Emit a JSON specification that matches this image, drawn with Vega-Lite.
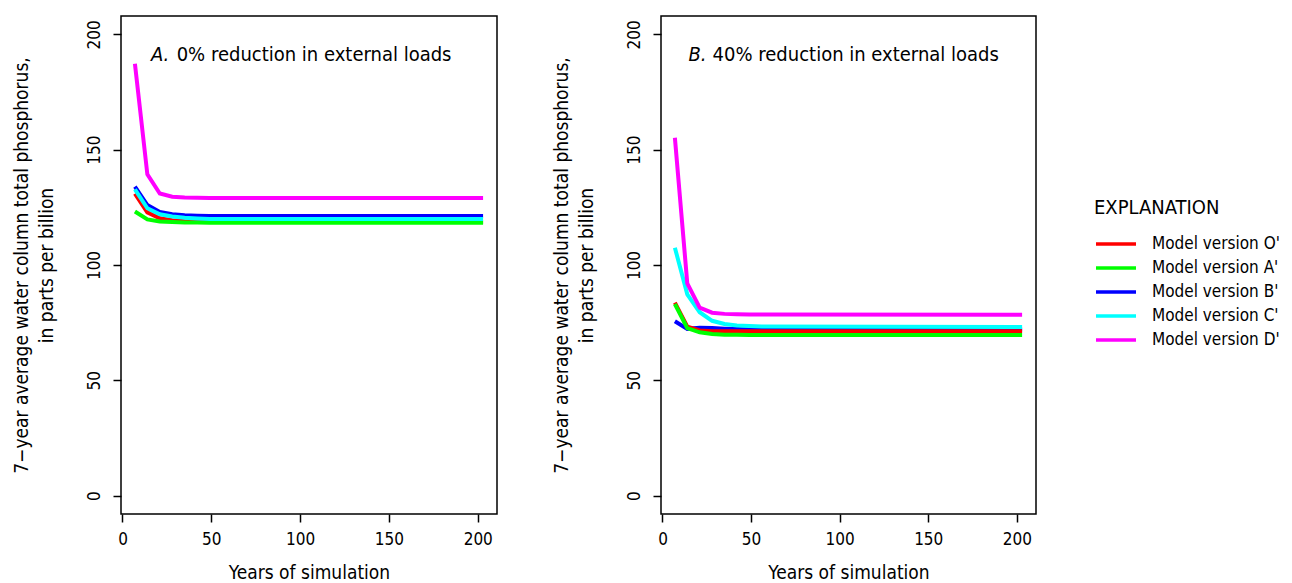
{
  "$schema": "https://vega.github.io/schema/vega-lite/v6.json",
  "background": "white",
  "padding": {"left": 11, "top": 15, "right": 5, "bottom": 5},
  "spacing": 53,
  "config": {
    "font": "DejaVu Sans Condensed, Roboto, sans-serif",
    "view": {"stroke": "black", "strokeWidth": 1.5},
    "axis": {
      "domain": false, "grid": false,
      "tickColor": "black", "tickSize": 8, "tickWidth": 1.5,
      "labelFont": "DejaVu Sans Condensed, Roboto, sans-serif", "labelFontSize": 17, "labelColor": "black",
      "titleFont": "DejaVu Sans Condensed, Roboto, sans-serif", "titleFontSize": 19, "titleFontWeight": "normal", "titleColor": "black"
    },
    "legend": {
      "labelFont": "DejaVu Sans Condensed, Roboto, sans-serif", "titleFont": "DejaVu Sans Condensed, Roboto, sans-serif"
    }
  },
  "datasets": {
    "d": [
      {"p":"A","m":"Model version B'","x":7,"y":134},{"p":"A","m":"Model version B'","x":14,"y":126},{"p":"A","m":"Model version B'","x":21,"y":123},{"p":"A","m":"Model version B'","x":28,"y":122},{"p":"A","m":"Model version B'","x":35,"y":121.6},{"p":"A","m":"Model version B'","x":42,"y":121.4},{"p":"A","m":"Model version B'","x":49,"y":121.3},{"p":"A","m":"Model version B'","x":56,"y":121.3},{"p":"A","m":"Model version B'","x":203,"y":121.3},
      {"p":"A","m":"Model version O'","x":7,"y":131},{"p":"A","m":"Model version O'","x":14,"y":122.8},{"p":"A","m":"Model version O'","x":21,"y":120.3},{"p":"A","m":"Model version O'","x":28,"y":119.4},{"p":"A","m":"Model version O'","x":35,"y":119},{"p":"A","m":"Model version O'","x":42,"y":118.8},{"p":"A","m":"Model version O'","x":49,"y":118.7},{"p":"A","m":"Model version O'","x":56,"y":118.6},{"p":"A","m":"Model version O'","x":203,"y":118.6},
      {"p":"A","m":"Model version A'","x":7,"y":123.2},{"p":"A","m":"Model version A'","x":14,"y":119.8},{"p":"A","m":"Model version A'","x":21,"y":118.9},{"p":"A","m":"Model version A'","x":28,"y":118.6},{"p":"A","m":"Model version A'","x":35,"y":118.4},{"p":"A","m":"Model version A'","x":42,"y":118.4},{"p":"A","m":"Model version A'","x":49,"y":118.3},{"p":"A","m":"Model version A'","x":56,"y":118.3},{"p":"A","m":"Model version A'","x":203,"y":118.3},
      {"p":"A","m":"Model version C'","x":7,"y":132.8},{"p":"A","m":"Model version C'","x":14,"y":124.6},{"p":"A","m":"Model version C'","x":21,"y":122},{"p":"A","m":"Model version C'","x":28,"y":121},{"p":"A","m":"Model version C'","x":35,"y":120.5},{"p":"A","m":"Model version C'","x":42,"y":120.2},{"p":"A","m":"Model version C'","x":49,"y":120},{"p":"A","m":"Model version C'","x":56,"y":119.9},{"p":"A","m":"Model version C'","x":203,"y":119.9},
      {"p":"A","m":"Model version D'","x":7,"y":187.3},{"p":"A","m":"Model version D'","x":14,"y":139.3},{"p":"A","m":"Model version D'","x":21,"y":131},{"p":"A","m":"Model version D'","x":28,"y":129.6},{"p":"A","m":"Model version D'","x":35,"y":129.3},{"p":"A","m":"Model version D'","x":42,"y":129.2},{"p":"A","m":"Model version D'","x":49,"y":129.1},{"p":"A","m":"Model version D'","x":56,"y":129.1},{"p":"A","m":"Model version D'","x":203,"y":129.1},
      {"p":"B","m":"Model version B'","x":7,"y":75.6},{"p":"B","m":"Model version B'","x":14,"y":72.3},{"p":"B","m":"Model version B'","x":21,"y":72.8},{"p":"B","m":"Model version B'","x":28,"y":72.7},{"p":"B","m":"Model version B'","x":35,"y":72.4},{"p":"B","m":"Model version B'","x":42,"y":72.2},{"p":"B","m":"Model version B'","x":49,"y":72.1},{"p":"B","m":"Model version B'","x":56,"y":72},{"p":"B","m":"Model version B'","x":203,"y":72},
      {"p":"B","m":"Model version O'","x":7,"y":83.7},{"p":"B","m":"Model version O'","x":14,"y":73.3},{"p":"B","m":"Model version O'","x":21,"y":71.6},{"p":"B","m":"Model version O'","x":28,"y":71.3},{"p":"B","m":"Model version O'","x":35,"y":71.3},{"p":"B","m":"Model version O'","x":42,"y":71.3},{"p":"B","m":"Model version O'","x":49,"y":71.3},{"p":"B","m":"Model version O'","x":56,"y":71.3},{"p":"B","m":"Model version O'","x":203,"y":71.3},
      {"p":"B","m":"Model version A'","x":7,"y":83.1},{"p":"B","m":"Model version A'","x":14,"y":72.6},{"p":"B","m":"Model version A'","x":21,"y":70.8},{"p":"B","m":"Model version A'","x":28,"y":70.1},{"p":"B","m":"Model version A'","x":35,"y":69.8},{"p":"B","m":"Model version A'","x":42,"y":69.7},{"p":"B","m":"Model version A'","x":49,"y":69.6},{"p":"B","m":"Model version A'","x":56,"y":69.6},{"p":"B","m":"Model version A'","x":203,"y":69.6},
      {"p":"B","m":"Model version C'","x":7,"y":107.5},{"p":"B","m":"Model version C'","x":14,"y":87.3},{"p":"B","m":"Model version C'","x":21,"y":79.5},{"p":"B","m":"Model version C'","x":28,"y":75.8},{"p":"B","m":"Model version C'","x":35,"y":74.4},{"p":"B","m":"Model version C'","x":42,"y":73.8},{"p":"B","m":"Model version C'","x":49,"y":73.5},{"p":"B","m":"Model version C'","x":56,"y":73.3},{"p":"B","m":"Model version C'","x":203,"y":73.1},
      {"p":"B","m":"Model version D'","x":7,"y":155.2},{"p":"B","m":"Model version D'","x":14,"y":92},{"p":"B","m":"Model version D'","x":21,"y":81.5},{"p":"B","m":"Model version D'","x":28,"y":79.3},{"p":"B","m":"Model version D'","x":35,"y":78.8},{"p":"B","m":"Model version D'","x":42,"y":78.6},{"p":"B","m":"Model version D'","x":49,"y":78.5},{"p":"B","m":"Model version D'","x":56,"y":78.5},{"p":"B","m":"Model version D'","x":203,"y":78.4}
    ],
    "t": [
      {"p":"A","letter":"A.","text":"0% reduction in external loads"},
      {"p":"B","letter":"B.","text":"40% reduction in external loads"}
    ]
  },
  "hconcat": [
    {
      "width": 376, "height": 498,
      "layer": [
        {
          "data": {"name": "d"},
          "transform": [{"filter": "datum.p === 'A'"}],
          "mark": {"type": "line", "strokeWidth": 4, "clip": true},
          "encoding": {
            "x": {"field": "x", "type": "quantitative", "scale": {"domain": [-0.84, 210.84], "nice": false, "zero": false},
                  "axis": {"values": [0, 50, 100, 150, 200], "title": "Years of simulation", "labelPadding": 9, "titlePadding": 16}},
            "y": {"field": "y", "type": "quantitative", "scale": {"domain": [-8, 208], "nice": false},
                  "axis": {"values": [0, 50, 100, 150, 200], "labelAngle": -90, "labelPadding": 10, "titlePadding": 29,
                           "title": ["7−year average water column total phosphorus,", "in parts per billion"], "titleLineHeight": 25}},
            "color": {"field": "m", "type": "nominal",
                      "scale": {"domain": ["Model version O'", "Model version A'", "Model version B'", "Model version C'", "Model version D'"],
                                "range": ["#ff0000", "#00ff00", "#0000ff", "#00ffff", "#ff00ff"]},
                      "legend": {"title": "EXPLANATION", "orient": "none", "legendX": 973, "legendY": 182,
                                 "symbolType": "stroke", "symbolSize": 1600, "symbolStrokeWidth": 3.5, "clipHeight": 20,
                                 "labelFontSize": 17, "titleFontSize": 20, "titleFontWeight": "normal", "titleColor": "black", "labelColor": "black",
                                 "rowPadding": 4, "labelOffset": 14, "titlePadding": 16, "padding": 0}}
          }
        },
        {
          "data": {"name": "t"},
          "transform": [{"filter": "datum.p === 'A'"}],
          "mark": {"type": "text", "fontStyle": "italic", "fontSize": 20, "align": "left", "baseline": "alphabetic", "color": "black"},
          "encoding": {"x": {"datum": 16}, "y": {"datum": 188.5}, "text": {"field": "letter"}}
        },
        {
          "data": {"name": "t"},
          "transform": [{"filter": "datum.p === 'A'"}],
          "mark": {"type": "text", "fontSize": 20, "align": "left", "baseline": "alphabetic", "color": "black"},
          "encoding": {"x": {"datum": 30.5}, "y": {"datum": 188.5}, "text": {"field": "text"}}
        }
      ]
    },
    {
      "width": 375, "height": 498,
      "layer": [
        {
          "data": {"name": "d"},
          "transform": [{"filter": "datum.p === 'B'"}],
          "mark": {"type": "line", "strokeWidth": 4, "clip": true},
          "encoding": {
            "x": {"field": "x", "type": "quantitative", "scale": {"domain": [-0.84, 210.84], "nice": false, "zero": false},
                  "axis": {"values": [0, 50, 100, 150, 200], "title": "Years of simulation", "labelPadding": 9, "titlePadding": 16}},
            "y": {"field": "y", "type": "quantitative", "scale": {"domain": [-8, 208], "nice": false},
                  "axis": {"values": [0, 50, 100, 150, 200], "labelAngle": -90, "labelPadding": 10, "titlePadding": 29,
                           "title": ["7−year average water column total phosphorus,", "in parts per billion"], "titleLineHeight": 25}},
            "color": {"field": "m", "type": "nominal",
                      "scale": {"domain": ["Model version O'", "Model version A'", "Model version B'", "Model version C'", "Model version D'"],
                                "range": ["#ff0000", "#00ff00", "#0000ff", "#00ffff", "#ff00ff"]}}
          }
        },
        {
          "data": {"name": "t"},
          "transform": [{"filter": "datum.p === 'B'"}],
          "mark": {"type": "text", "fontStyle": "italic", "fontSize": 20, "align": "left", "baseline": "alphabetic", "color": "black"},
          "encoding": {"x": {"datum": 14.7}, "y": {"datum": 188.5}, "text": {"field": "letter"}}
        },
        {
          "data": {"name": "t"},
          "transform": [{"filter": "datum.p === 'B'"}],
          "mark": {"type": "text", "fontSize": 20, "align": "left", "baseline": "alphabetic", "color": "black"},
          "encoding": {"x": {"datum": 28.3}, "y": {"datum": 188.5}, "text": {"field": "text"}}
        }
      ]
    }
  ]
}
